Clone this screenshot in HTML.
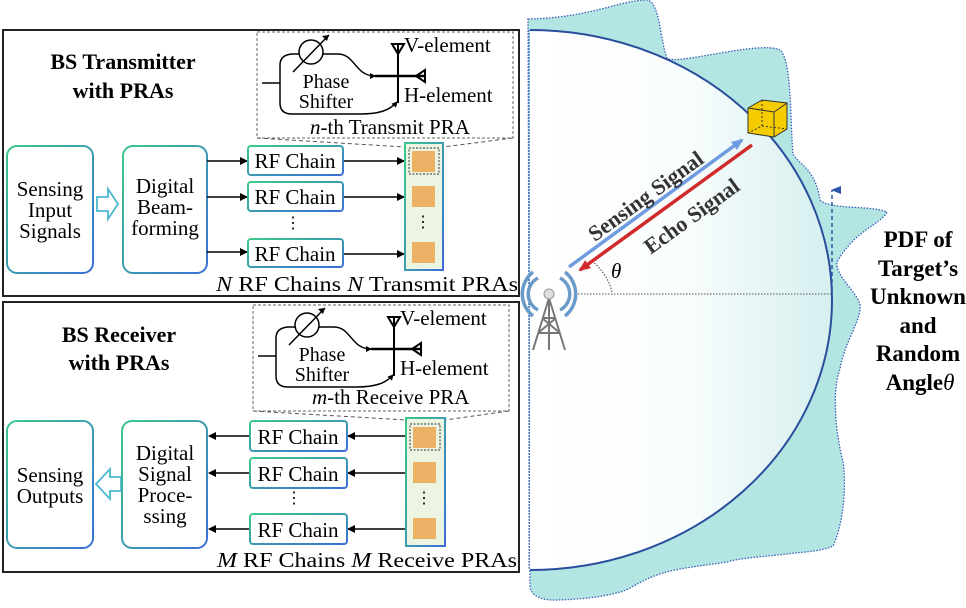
<!DOCTYPE html>
<html><head><meta charset="utf-8"><style>
body{margin:0;background:#fff}
svg text{font-family:"Liberation Serif",serif}
</style></head><body>
<svg width="966" height="603" viewBox="0 0 966 603" xmlns="http://www.w3.org/2000/svg">
<defs>
<linearGradient id="bx" x1="0" y1="0" x2="1" y2="1"><stop offset="0" stop-color="#3cc98a"/><stop offset="1" stop-color="#3b6fd6"/></linearGradient>
<linearGradient id="sc" x1="0" y1="0" x2="1" y2="0"><stop offset="0" stop-color="#fff"/><stop offset="0.5" stop-color="#fafdfd"/><stop offset="1" stop-color="#d6efef"/></linearGradient>
<marker id="ah" markerWidth="8" markerHeight="8" refX="7" refY="4" orient="auto" markerUnits="userSpaceOnUse"><path d="M0,0 L8,4 L0,8 z" fill="#000"/></marker>
<marker id="ahs" markerWidth="6" markerHeight="6" refX="5" refY="3" orient="auto" markerUnits="userSpaceOnUse"><path d="M0,0 L6,3 L0,6 z" fill="#000"/></marker>
<marker id="ab" markerWidth="12" markerHeight="10" refX="10" refY="5" orient="auto" markerUnits="userSpaceOnUse"><path d="M0,0 L12,5 L0,10 z" fill="#6f9be0"/></marker>
<marker id="ar" markerWidth="12" markerHeight="10" refX="10" refY="5" orient="auto" markerUnits="userSpaceOnUse"><path d="M0,0 L12,5 L0,10 z" fill="#d02a2a"/></marker>
<marker id="ad" markerWidth="8" markerHeight="10" refX="4" refY="1" orient="auto-start-reverse" markerUnits="userSpaceOnUse"><path d="M0,10 L4,0 L8,10 z" fill="#2a55a8"/></marker>
</defs>

<path d="M528,19 C590,18 620,0 647,0 C660,2 660,40 667,58 C675,66 760,40 780,50 C792,60 790,120 793,154 C800,166 815,168 820,200 C830,210 870,205 887,212 C880,225 855,230 837,262 C835,275 855,290 860,304 C862,320 845,340 840,369 C832,390 835,430 843,462 C846,480 845,520 833,546 C820,552 800,552 787,554 C760,557 740,558 727,562 C700,566 680,568 663,573 C640,580 630,590 620,592 C600,598 570,600 553,600 C540,600 532,595 530,588 Z" fill="#b3e6e3" stroke="#3a5fb8" stroke-width="1.3" stroke-dasharray="1.5,1.5"/>
<path d="M530,30 A302,270 0 0 1 530,570 Z" fill="url(#sc)"/>
<path d="M530,30 A302,270 0 0 1 530,570" fill="none" stroke="#2a4d9c" stroke-width="2"/>
<line x1="529" y1="30" x2="529" y2="570" stroke="#3a5fb8" stroke-width="1.2" stroke-dasharray="1.5,1.5"/>
<line x1="575" y1="294" x2="832" y2="294" stroke="#555" stroke-width="1" stroke-dasharray="1.5,1.5"/>
<line x1="832" y1="290" x2="832" y2="190" stroke="#2a55a8" stroke-width="1.5" stroke-dasharray="4,3" marker-end="url(#ad)"/>
<path d="M612,292 A55,55 0 0 0 593,262" fill="none" stroke="#444" stroke-width="1" stroke-dasharray="1.5,1.5"/>
<text x="611" y="278" font-size="21" font-style="italic">θ</text>
<line x1="569" y1="267" x2="742" y2="140" stroke="#6f9be0" stroke-width="3.5" marker-end="url(#ab)"/>
<line x1="752" y1="145" x2="580" y2="270" stroke="#d02a2a" stroke-width="3.5" marker-end="url(#ar)"/>
<text transform="translate(650,202) rotate(-36)" font-size="22" font-weight="bold" fill="#333" text-anchor="middle">Sensing Signal</text>
<text transform="translate(696,222) rotate(-36)" font-size="22" font-weight="bold" fill="#333" text-anchor="middle">Echo Signal</text>
<g stroke="#333" stroke-width="1">
<path d="M748,108 L762,100 L787,103 L787,129 L774,137 L748,133 Z" fill="#f5cc00"/>
<path d="M748,108 L774,112 L787,103 M774,112 L774,137" fill="none"/>
<path d="M762,100 L762,126 L748,133 M762,126 L787,129" fill="none" stroke-dasharray="2,2"/>
</g>
<g fill="none" stroke="#6a9ac8" stroke-width="3.5">
<path d="M538,278 A18,18 0 0 0 538,310"/><path d="M560,278 A18,18 0 0 1 560,310"/>
<path d="M533,272 A28,28 0 0 0 533,316"/><path d="M565,272 A28,28 0 0 1 565,316"/>
</g>
<g stroke="#777" stroke-width="2" fill="none">
<path d="M549,298 L533,350 M549,298 L565,350 M549,298 L549,350 M538,333 L560,333 M542,318 L556,318 M538,333 L556,318 M542,318 L560,333"/>
</g>
<circle cx="549" cy="294" r="5" fill="#ddd" stroke="#999"/>
<text font-size="23" font-weight="bold" text-anchor="middle">
<tspan x="918" y="247">PDF of</tspan><tspan x="918" y="276">Target’s</tspan><tspan x="918" y="304">Unknown</tspan><tspan x="918" y="333">and</tspan><tspan x="918" y="361">Random</tspan><tspan x="920" y="390">Angle<tspan font-style="italic" font-weight="normal">θ</tspan></tspan>
</text>

<rect x="3" y="30" width="516" height="266" fill="#fff" stroke="#222" stroke-width="2"/>
<text font-size="22" font-weight="bold" text-anchor="middle"><tspan x="123" y="69">BS Transmitter</tspan><tspan x="123" y="98">with PRAs</tspan></text>
<g id="ps">
<rect x="257" y="32" width="256" height="106" fill="none" stroke="#666" stroke-dasharray="3,2"/>
<g fill="none" stroke="#000" stroke-width="1.5">
<path d="M262,83 L280,83"/>
<path d="M280,83 L280,65 Q280,55 292,54 L299,54"/>
<path d="M323,54 L338,54 C355,54 355,76 375,76" marker-end="url(#ahs)"/>
<path d="M280,83 L280,103 Q280,114 292,114 L360,114 C380,114 390,110 397,102" marker-end="url(#ahs)"/>
<path d="M375,76 L425,76" stroke-width="2.5"/>
<path d="M398,45 L398,103" stroke-width="2"/>
<circle cx="311" cy="52" r="12"/>
<path d="M293,72 L329,35"/>
<path d="M392,44 L404,44 L398,54 Z" stroke-width="2"/>
<path d="M425,70 L425,82 L416,76 Z" stroke-width="2"/>
</g>
<path d="M329,35 l-7,1 l5,5 z" fill="#000"/>
<text font-size="20" text-anchor="middle"><tspan x="326" y="88">Phase</tspan><tspan x="326" y="108">Shifter</tspan></text>
<text x="404" y="52" font-size="21">V-element</text>
<text x="404" y="102" font-size="21">H-element</text>
</g>
<text x="310" y="134" font-size="21"><tspan font-style="italic">n</tspan>-th Transmit PRA</text>
<path d="M257,138 L405,147 M513,138 L443,147" stroke="#555" stroke-dasharray="4,3"/>
<rect x="7" y="146" width="86" height="127" rx="10" fill="#fff" stroke="url(#bx)" stroke-width="2"/>
<text font-size="21" text-anchor="middle"><tspan x="50" y="196">Sensing</tspan><tspan x="50" y="217">Input</tspan><tspan x="50" y="238">Signals</tspan></text>
<path d="M97,197 L108,197 L108,189 L118,204 L108,219 L108,211 L97,211 Z" fill="#fff" stroke="#4bb8d0" stroke-width="1.8"/>
<rect x="123" y="146" width="84" height="127" rx="10" fill="#fff" stroke="url(#bx)" stroke-width="2"/>
<text font-size="21" text-anchor="middle"><tspan x="165" y="193">Digital</tspan><tspan x="165" y="214">Beam-</tspan><tspan x="165" y="235">forming</tspan></text>
<g stroke="#000" stroke-width="1.5" marker-end="url(#ah)">
<line x1="207" y1="161" x2="247" y2="161"/><line x1="207" y1="197" x2="247" y2="197"/><line x1="207" y1="252" x2="247" y2="252"/>
<line x1="343" y1="161" x2="404" y2="161"/><line x1="343" y1="197" x2="404" y2="197"/><line x1="343" y1="254" x2="404" y2="254"/>
</g>
<g fill="#fff" stroke="url(#bx)" stroke-width="2">
<rect x="248" y="146" width="95" height="29" rx="3"/><rect x="248" y="182" width="95" height="29" rx="3"/><rect x="248" y="239" width="95" height="28" rx="3"/>
</g>
<text font-size="21" text-anchor="middle"><tspan x="295" y="168">RF Chain</tspan><tspan x="295" y="204">RF Chain</tspan><tspan x="295" y="261">RF Chain</tspan></text>
<text x="293" y="228" font-size="16" text-anchor="middle">⋮</text>
<rect x="405" y="143" width="38" height="127" fill="#ecf4e2" stroke="url(#bx)" stroke-width="2"/>
<rect x="409" y="148" width="30" height="26" fill="none" stroke="#333" stroke-dasharray="2,1.5"/>
<g fill="#ebb266"><rect x="412" y="151" width="23" height="21"/><rect x="412" y="186" width="23" height="21"/><rect x="412" y="242" width="23" height="21"/></g>
<text x="423" y="227" font-size="16" text-anchor="middle">⋮</text>
<text x="216" y="291" font-size="21" textLength="302" lengthAdjust="spacingAndGlyphs"><tspan font-style="italic">N</tspan> RF Chains <tspan font-style="italic">N</tspan> Transmit PRAs</text>

<rect x="3" y="302" width="516" height="270" fill="#fff" stroke="#222" stroke-width="2"/>
<text font-size="22" font-weight="bold" text-anchor="middle"><tspan x="119" y="342">BS Receiver</tspan><tspan x="119" y="370">with PRAs</tspan></text>
<use href="#ps" transform="translate(-4,273)"/>
<text x="312" y="404" font-size="21"><tspan font-style="italic">m</tspan>-th Receive PRA</text>
<path d="M253,411 L406,420 M509,411 L445,420" stroke="#555" stroke-dasharray="4,3"/>
<rect x="7" y="421" width="86" height="127" rx="10" fill="#fff" stroke="url(#bx)" stroke-width="2"/>
<text font-size="21" text-anchor="middle"><tspan x="50" y="482">Sensing</tspan><tspan x="50" y="503">Outputs</tspan></text>
<path d="M121,477 L110,477 L110,469 L96,484 L110,499 L110,491 L121,491 Z" fill="#fff" stroke="#4bb8d0" stroke-width="1.8"/>
<rect x="122" y="421" width="85" height="127" rx="10" fill="#fff" stroke="url(#bx)" stroke-width="2"/>
<text font-size="21" text-anchor="middle"><tspan x="165" y="460">Digital</tspan><tspan x="165" y="481">Signal</tspan><tspan x="165" y="502">Proce-</tspan><tspan x="165" y="523">ssing</tspan></text>
<g stroke="#000" stroke-width="1.5" marker-end="url(#ah)">
<line x1="250" y1="436" x2="209" y2="436"/><line x1="250" y1="473" x2="209" y2="473"/><line x1="250" y1="529" x2="209" y2="529"/>
<line x1="406" y1="436" x2="348" y2="436"/><line x1="406" y1="473" x2="348" y2="473"/><line x1="406" y1="529" x2="348" y2="529"/>
</g>
<g fill="#fff" stroke="url(#bx)" stroke-width="2">
<rect x="250" y="421" width="97" height="30" rx="3"/><rect x="250" y="458" width="97" height="30" rx="3"/><rect x="250" y="514" width="97" height="30" rx="3"/>
</g>
<text font-size="21" text-anchor="middle"><tspan x="298" y="444">RF Chain</tspan><tspan x="298" y="481">RF Chain</tspan><tspan x="298" y="537">RF Chain</tspan></text>
<text x="294" y="503" font-size="16" text-anchor="middle">⋮</text>
<rect x="406" y="418" width="39" height="128" fill="#ecf4e2" stroke="url(#bx)" stroke-width="2"/>
<rect x="410" y="424" width="30" height="26" fill="none" stroke="#333" stroke-dasharray="2,1.5"/>
<g fill="#ebb266"><rect x="413" y="427" width="23" height="21"/><rect x="413" y="462" width="23" height="21"/><rect x="413" y="518" width="23" height="21"/></g>
<text x="424" y="503" font-size="16" text-anchor="middle">⋮</text>
<text x="217" y="567" font-size="21" textLength="300" lengthAdjust="spacingAndGlyphs"><tspan font-style="italic">M</tspan> RF Chains <tspan font-style="italic">M</tspan> Receive PRAs</text>
</svg>
</body></html>
